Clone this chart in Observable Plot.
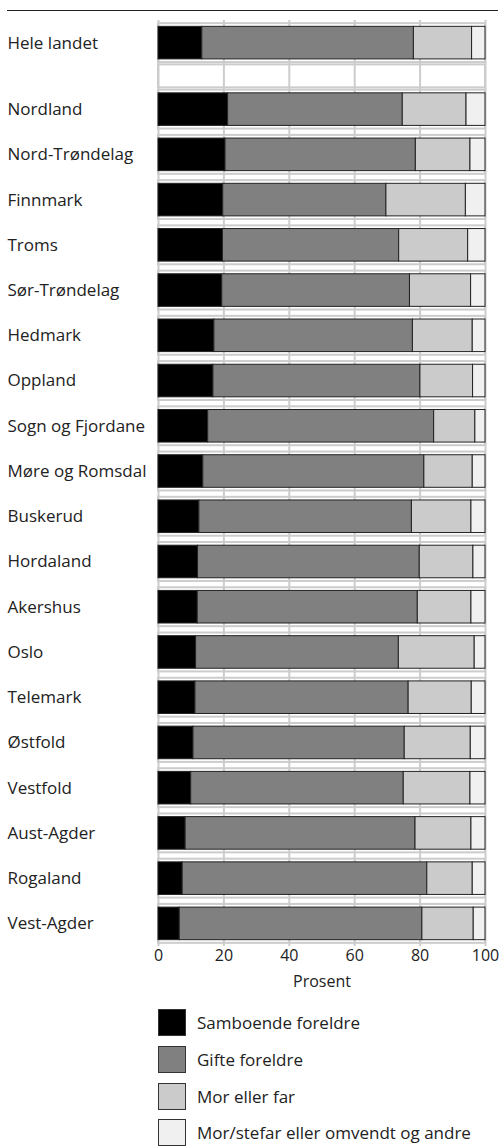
<!DOCTYPE html>
<html>
<head>
<meta charset="utf-8">
<script src="https://cdn.jsdelivr.net/npm/d3@7"></script>
<script src="https://cdn.jsdelivr.net/npm/@observablehq/plot@0.6"></script>
<style>
  body { margin: 0; background: #fff; font-family: "Open Sans", sans-serif; color: #222; }
  #wrap { position: relative; width: 504px; }
  #topline { position: absolute; top: 10px; left: 7px; width: 491px; border-top: 1.5px solid #222; }
  #legend { padding-left: 158px; padding-top: 9px; }
  .item { display: flex; align-items: center; height: 27px; margin-bottom: 9.8px; font-size: 17px; }
  .sw { width: 26px; height: 25px; border: 1px solid #333; margin-right: 11px; box-sizing: content-box; }
  svg { display: block; }
</style>
</head>
<body>
<div id="wrap">
  <div id="topline"></div>
  <div id="chart"></div>
  <div id="legend"></div>
</div>
<script>
const regions = ["Hele landet","Nordland","Nord-Trøndelag","Finnmark","Troms","Sør-Trøndelag","Hedmark","Oppland","Sogn og Fjordane","Møre og Romsdal","Buskerud","Hordaland","Akershus","Oslo","Telemark","Østfold","Vestfold","Aust-Agder","Rogaland","Vest-Agder"];
const samboende   = [13.4,21.3,20.5,19.8,19.7,19.5,17.1,16.8,15.2,13.7,12.5,12.1,12.0,11.5,11.3,10.7,10.0, 8.3, 7.4, 6.5];
const gifte       = [64.7,53.4,58.2,49.9,53.9,57.4,60.7,63.3,69.1,67.6,65.0,67.8,67.3,62.0,65.2,64.6,65.0,70.3,74.8,74.2];
const morEllerFar = [17.8,19.5,16.7,24.3,21.1,18.7,18.3,16.1,12.6,14.8,18.2,16.4,16.4,23.2,19.3,20.2,20.4,17.1,13.9,15.7];
const andre       = [ 4.1, 5.8, 4.6, 6.0, 5.3, 4.4, 3.9, 3.8, 3.1, 3.9, 4.3, 3.7, 4.3, 3.3, 4.2, 4.5, 4.6, 4.3, 3.9, 3.6];
const categories = ["Samboende foreldre","Gifte foreldre","Mor eller far","Mor/stefar eller omvendt og andre"];
const colors = ["#000000","#808080","#cbcbcb","#f0f0f0"];
const xTicks = [0,20,40,60,80,100];
const xLabel = "Prosent";

const series = [samboende, gifte, morEllerFar, andre];
// row positions: the national total, then a half-height blank spacer row, then the counties
const gapAfterFirst = 0.47;
const rows = regions.map((name, i) => ({name, pos: i === 0 ? 0 : i + gapAfterFirst, half: 0.43}));
const spacer = {name: "", pos: (1 + gapAfterFirst) / 2, half: 0.254};
const segments = [];
rows.forEach((r, i) => {
  let acc = 0;
  series.forEach((s, k) => {
    segments.push({name: r.name, pos: r.pos, cat: categories[k], x1: acc, x2: acc + s[i]});
    acc += s[i];
  });
});
const barHalf = 0.36;

const chart = Plot.plot({
  width: 504,
  height: 1000,
  marginLeft: 158,
  marginRight: 19,
  marginTop: 20,
  marginBottom: 54,
  x: {domain: [0, 100]},
  y: {domain: [-0.5, rows[rows.length - 1].pos + 0.5], reverse: true, axis: null},
  color: {domain: categories, range: colors},
  style: {fontFamily: "Open Sans, sans-serif", fontSize: "16px", color: "#222", background: "white"},
  marks: [
    Plot.gridX(xTicks, {stroke: "#cccccc", strokeOpacity: 1, strokeWidth: 2}),
    Plot.rect([...rows, spacer], {x1: 0, x2: 100, y1: d => d.pos - d.half, y2: d => d.pos + d.half, fill: "none", stroke: "#cccccc", strokeWidth: 2}),
    Plot.rect(segments, {x1: "x1", x2: "x2", y1: d => d.pos - barHalf, y2: d => d.pos + barHalf, fill: "cat", stroke: "#222", strokeWidth: 1}),
    Plot.text(rows, {y: "pos", text: "name", frameAnchor: "left", textAnchor: "start", dx: -151, fontSize: 17, fill: "#222"}),
    Plot.axisX({ticks: xTicks, tickSize: 0, tickPadding: 3, label: xLabel, labelAnchor: "center", labelArrow: "none", labelOffset: 40, fontSize: 16})
  ]
});
document.getElementById("chart").appendChild(chart);

const legend = document.getElementById("legend");
categories.forEach((c, k) => {
  const item = document.createElement("div");
  item.className = "item";
  const sw = document.createElement("div");
  sw.className = "sw";
  sw.style.background = colors[k];
  const t = document.createElement("span");
  t.textContent = c;
  item.appendChild(sw);
  item.appendChild(t);
  legend.appendChild(item);
});
</script>
</body>
</html>
